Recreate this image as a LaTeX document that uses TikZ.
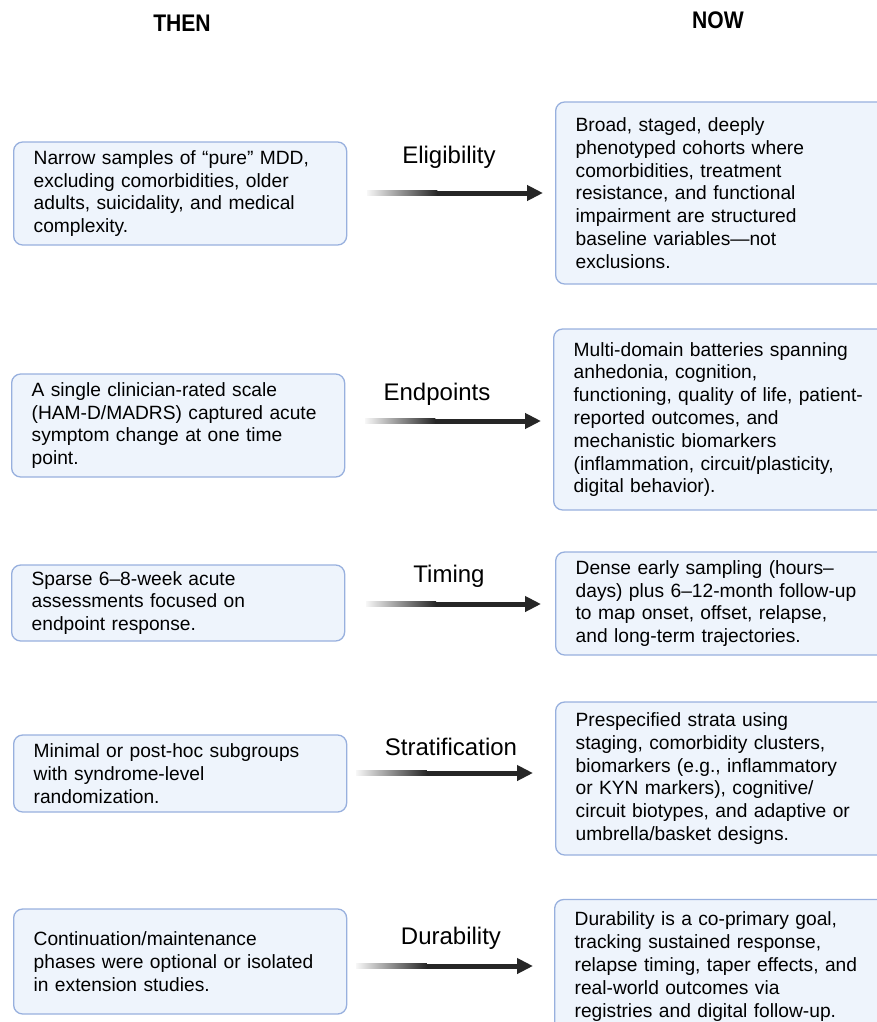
\documentclass[tikz,border=0pt]{standalone}
\usepackage{fontspec}
\setmainfont{Liberation Sans}
\usetikzlibrary{positioning,arrows.meta,calc}
\definecolor{boxfill}{RGB}{238,244,252}
\definecolor{boxline}{RGB}{152,176,222}

\begin{document}
\begin{tikzpicture}[x=1pt, y=-1pt,
    box/.style={draw=boxline, fill=boxfill, line width=1.3pt, rounded corners=9pt,
        anchor=west, align=left, inner xsep=20pt, inner ysep=0pt,
        font=\fontsize{19.2}{22.8}\selectfont},
    thenbox/.style={box, text width=293pt},
    nowbox/.style={box, text width=320pt},
    lab/.style={fill=white, rounded corners=12pt, inner sep=3pt, font=\fontsize{24}{28}\selectfont},
    head/.style={font=\bfseries\fontsize{24}{28}\selectfont}]
    %
    \useasboundingbox (0,0) rectangle (877,1022);
    \clip (0,0) rectangle (877,1022);
    %
    \node[head] (then) at (182,23) {\scalebox{0.88}[1]{THEN}};
    \node[head] (now)  at (718,20) {\scalebox{0.88}[1]{NOW}};
    %
    % left column
    \node[thenbox, minimum height=103pt] (then1) at (13,193.5)
        {Narrow samples of “pure” MDD,\\excluding comorbidities, older\\adults, suicidality, and medical\\complexity.};
    \node[thenbox, minimum height=103pt] (then2) at (11,425.5)
        {A single clinician-rated scale\\(HAM-D/MADRS) captured acute\\symptom change at one time\\point.};
    \node[thenbox, minimum height=76pt] (then3) at (11,603)
        {Sparse 6–8-week acute\\assessments focused on\\endpoint response.};
    \node[thenbox, minimum height=77pt] (then4) at (13,773.5)
        {Minimal or post-hoc subgroups\\with syndrome-level\\randomization.};
    \node[thenbox, minimum height=105pt] (then5) at (13,961.5)
        {Continuation/maintenance\\phases were optional or isolated\\in extension studies.};
    %
    % right column
    \node[nowbox, minimum height=182pt] (now1) at (555,193)
        {Broad, staged, deeply\\phenotyped cohorts where\\comorbidities, treatment\\resistance, and functional\\impairment are structured\\baseline variables—not\\exclusions.};
    \node[nowbox, minimum height=181pt] (now2) at (553,419.5)
        {Multi-domain batteries spanning\\anhedonia, cognition,\\functioning, quality of life, patient-\\reported outcomes, and\\mechanistic biomarkers\\(inflammation, circuit/plasticity,\\digital behavior).};
    \node[nowbox, minimum height=103pt] (now3) at (555,603.5)
        {Dense early sampling (hours–\\days) plus 6–12-month follow-up\\to map onset, offset, relapse,\\and long-term trajectories.};
    \node[nowbox, minimum height=153pt] (now4) at (555,778.5)
        {Prespecified strata using\\staging, comorbidity clusters,\\biomarkers (e.g., inflammatory\\or KYN markers), cognitive/\\circuit biotypes, and adaptive or\\umbrella/basket designs.};
    \node[nowbox, minimum height=134pt] (now5) at (554,966.5)
        {Durability is a co-primary goal,\\tracking sustained response,\\relapse timing, taper effects, and\\real-world outcomes via\\registries and digital follow-up.};
    %
    % labels over the arrows
    \node[lab] (lelig)  at (449,157) {Eligibility};
    \node[lab] (lend)   at (437,394) {Endpoints};
    \node[lab] (ltim)   at (449,576) {Timing};
    \node[lab] (lstrat) at (451,747) {Stratification};
    \node[lab] (ldur)   at (451,938) {Durability};
    %
    % fading arrows
    \foreach \n/\sx/\ex/\yy in {1/367/543/193, 2/365/541/421, 3/366/541/604,
                                4/356/533/773, 5/356/533/966} {
        \coordinate (a\n s) at (\sx,\yy);
        \coordinate (a\n e) at (\ex,\yy);
        \coordinate (a\n m) at ($(a\n s)!0.4!(a\n e)$);
        \shade[left color=black!3, right color=black!85]
            ([yshift=-2.5pt]a\n s) rectangle ([yshift=2.5pt]a\n m);
        \draw[black!85, line width=5pt, -{Triangle[length=16pt,width=15pt]}]
            (a\n m) -- (a\n e);
    }
\end{tikzpicture}
\end{document}
